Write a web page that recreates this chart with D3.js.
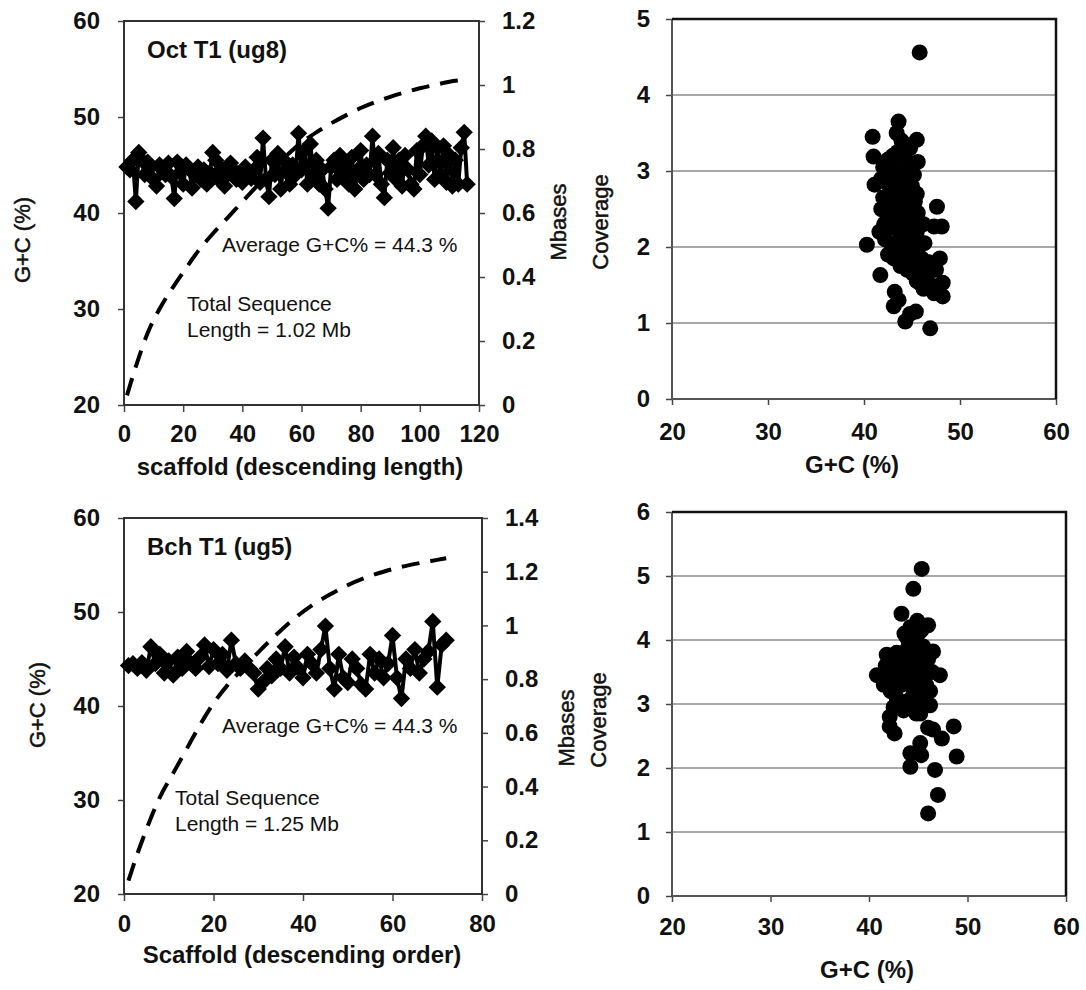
<!DOCTYPE html>
<html>
<head>
<meta charset="utf-8">
<script src="https://cdn.jsdelivr.net/npm/d3@7"></script>
<style>
  html, body { margin: 0; padding: 0; background: #fff; }
  svg { display: block; font-family: "Liberation Sans", Arial, sans-serif; }
  .tick text { font-weight: bold; font-size: 24px; fill: #111; }
</style>
</head>
<body>
<svg id="chart" width="1086" height="990"></svg>
<script>
// ---------------- DATA ----------------
// Panel A (top-left): Oct T1 (ug8) G+C % per scaffold (descending length)
const octGC = [44.8,44.5,45.5,41.2,46.3,45.5,44.0,45.3,44.8,43.5,42.8,45.0,44.5,44.0,45.2,43.8,41.5,45.3,44.2,43.0,
  45.0,44.6,42.6,44.0,44.8,43.5,44.5,43.0,44.2,46.3,45.5,43.5,44.6,42.8,44.0,45.2,44.5,43.5,44.0,43.2,
  44.8,44.0,43.6,44.5,45.8,43.2,47.8,43.5,41.7,45.5,44.0,46.2,42.5,45.5,44.2,43.0,45.0,44.0,48.3,44.5,
  46.5,43.0,47.2,44.0,45.5,43.0,44.5,42.5,40.5,44.8,45.5,43.5,46.0,44.0,45.3,43.0,45.8,42.5,44.5,46.5,
  43.5,45.0,44.0,48.0,44.0,46.2,43.0,41.6,45.5,44.2,46.8,43.5,45.5,42.8,46.0,44.5,43.0,42.5,46.5,44.0,
  47.0,48.0,45.0,47.5,43.5,46.8,44.0,47.0,43.2,46.0,42.8,45.5,43.0,46.8,48.4,43.0];
// cumulative length (Mbases) read at scaffold positions
const octCumX = [1,4,8,12,16,20,25,30,35,40,45,50,55,60,65,70,75,80,85,90,95,100,105,110,114];
const octCumY = [0.03,0.12,0.225,0.30,0.36,0.415,0.48,0.535,0.585,0.635,0.685,0.735,0.78,0.82,0.852,0.88,0.905,0.928,0.947,0.963,0.977,0.99,1.0,1.01,1.015];

// Panel C (bottom-left): Bch T1 (ug5)
const bchGC = [44.3,44.5,44.0,44.6,43.8,46.3,44.5,45.5,43.5,44.8,43.3,45.2,44.0,45.8,44.5,44.0,45.2,46.5,44.2,46.0,
  44.5,45.5,43.8,47.0,44.5,44.0,44.8,44.0,43.5,41.8,42.5,44.0,43.2,45.0,44.0,46.3,43.5,45.2,44.0,43.0,
  45.5,44.5,43.5,46.0,48.5,44.0,41.8,45.5,43.0,42.5,45.0,44.0,42.3,41.8,45.5,43.5,45.0,43.0,44.5,47.5,
  43.0,40.8,45.0,44.0,46.0,43.5,45.0,45.8,49.0,42.0,46.5,47.0];
const bchCumX = [1,3,5,8,11,14,17,20,23,26,30,34,38,42,46,50,54,58,62,66,70,72];
const bchCumY = [0.05,0.15,0.24,0.36,0.45,0.54,0.63,0.71,0.775,0.83,0.90,0.965,1.025,1.075,1.115,1.15,1.178,1.20,1.218,1.232,1.244,1.25];

// Panel B (top-right): coverage vs G+C, Oct T1
const octScatGC  = [45.8,43.6,43.4,40.9,45.5,44.8,41.0,45.6,41.1,47.6,48.1,47.3,40.3,41.7,47.9,43.2,43.1,43.6,44.3,44.8,
  45.4,46.9,48.2,48.2,47.3,47.0,45.9,46.5,47.5,46.2,
  42.5,43.0,43.5,44.2,44.8,42.0,43.8,44.5,45.2,
  41.8,42.3,42.8,43.3,43.8,44.4,45.0,45.5,42.0,42.6,43.1,43.6,44.1,44.7,45.3,
  41.8,42.3,42.9,43.4,44.0,44.5,45.1,45.6,42.1,42.6,43.2,43.7,44.3,44.9,45.5,46.2,41.6,
  42.2,42.8,43.3,43.9,44.5,45.0,45.6,46.3,42.5,43.1,43.7,44.3,44.9,45.4,46.0,
  43.8,44.5,45.1,45.8,46.4,45.5,46.8,
  43.9,44.3,43.2,44.0,43.6,44.2,44.7,45.2];
const octScatCov = [4.56,3.65,3.50,3.45,3.41,3.30,3.19,3.12,2.82,2.53,2.27,2.27,2.03,1.63,1.85,1.41,1.22,1.30,1.02,1.12,
  1.15,0.93,1.53,1.35,1.39,1.50,1.52,1.60,1.70,1.45,
  3.15,3.20,3.25,3.20,3.10,3.05,3.00,2.98,2.95,
  2.90,2.85,2.90,2.80,2.75,2.85,2.80,2.70,2.65,2.70,2.60,2.65,2.60,2.65,2.60,
  2.50,2.45,2.50,2.40,2.45,2.50,2.40,2.45,2.30,2.25,2.30,2.20,2.25,2.30,2.20,2.30,2.20,
  2.10,2.05,2.00,2.10,2.00,2.10,2.00,2.05,1.90,1.85,1.95,1.85,1.90,1.80,1.85,
  1.75,1.70,1.65,1.70,1.75,1.55,1.80,
  3.40,3.35,3.05,2.90,2.50,2.35,2.15,1.95];

// Panel D (bottom-right): coverage vs G+C, Bch T1
const bchScatGC  = [45.35,44.5,43.3,46.0,44.9,43.8,46.5,41.8,40.8,47.2,46.2,42.1,42.1,42.6,45.2,48.6,46.5,46.0,47.4,45.2,
  44.2,45.3,44.2,46.7,48.9,47.0,46.0,
  41.5,42.0,42.5,43.0,43.5,44.0,44.5,45.0,45.5,46.0,42.2,42.8,43.3,43.8,44.3,44.8,45.3,45.8,46.2,
  42.5,43.0,43.5,44.0,44.5,45.0,45.5,44.8,44.2,44.9,45.3,43.6,42.3,43.8,44.6,45.6,43.2,41.7,42.8,44.2,46.4,45.0,44.3];
const bchScatCov = [5.11,4.80,4.41,4.23,4.30,4.05,3.82,3.77,3.45,3.45,2.98,2.80,2.65,2.54,2.85,2.65,2.60,2.63,2.46,2.39,
  2.23,2.20,2.02,1.97,2.18,1.58,1.29,
  3.30,3.50,3.60,3.70,3.80,3.90,4.00,4.10,3.90,3.70,3.20,3.10,3.30,3.40,3.50,3.60,3.50,3.30,3.20,
  2.95,3.00,2.90,3.05,3.15,3.00,3.10,2.85,4.20,4.25,4.15,4.10,3.40,3.60,3.30,3.60,3.50,3.60,3.80,2.95,3.50,3.75,3.75];

// Axis tick values
const gcTicks = [20,30,40,50,60];
const octXTicks = [0,20,40,60,80,100,120];
const bchXTicks = [0,20,40,60,80];
const octMbTicks = [0,0.2,0.4,0.6,0.8,1.0,1.2];
const bchMbTicks = [0,0.2,0.4,0.6,0.8,1.0,1.2,1.4];
const scatXTicks = [20,30,40,50,60];
const octCovTicks = [0,1,2,3,4,5];
const bchCovTicks = [0,1,2,3,4,5,6];

// ---------------- DRAW ----------------
const svg = d3.select("#chart");
const fmtMb = d => d === 0 ? "0" : (d === 1 ? "1" : d3.format(".1f")(d));

function styleAxis(g) {
  g.select(".domain").remove();
  g.selectAll(".tick line").attr("stroke", "#444").attr("stroke-width", 1.5);
}

function vtitle(x, y, txt) {
  svg.append("text")
    .attr("transform", `translate(${x},${y}) rotate(-90)`)
    .attr("text-anchor", "middle").attr("dominant-baseline", "central")
    .attr("font-size", 22).attr("fill", "#111")
    .attr("stroke", "#111").attr("stroke-width", 0.5)
    .text(txt);
}
function htitle(x, y, txt) {
  svg.append("text").attr("x", x).attr("y", y)
    .attr("text-anchor", "middle").attr("font-size", 24).attr("font-weight", "bold")
    .attr("fill", "#111").text(txt);
}
function note(x, y, txt, bold, size) {
  svg.append("text").attr("x", x).attr("y", y)
    .attr("font-size", size).attr("font-weight", bold ? "bold" : "normal")
    .attr("fill", "#111").text(txt);
}

function linePanel(cfg) {
  const x = d3.scaleLinear().domain(cfg.xDom).range(cfg.xR);
  const y = d3.scaleLinear().domain([20, 60]).range(cfg.yR);
  const y2 = d3.scaleLinear().domain(cfg.y2Dom).range(cfg.yR);
  const g = svg.append("g");

  g.append("g").attr("transform", `translate(${cfg.xR[0]},0)`)
    .call(d3.axisLeft(y).tickValues(gcTicks).tickSize(6).tickPadding(18)).call(styleAxis);
  g.append("g").attr("transform", `translate(${cfg.xR[1]},0)`)
    .call(d3.axisRight(y2).tickValues(cfg.y2Ticks).tickFormat(fmtMb).tickSize(6).tickPadding(17)).call(styleAxis)
    .selectAll("text").attr("text-anchor", "start");
  g.append("g").attr("transform", `translate(0,${cfg.yR[0]})`)
    .call(d3.axisBottom(x).tickValues(cfg.xTicks).tickSize(7).tickPadding(cfg.xPad)).call(styleAxis);

  g.append("rect").attr("x", cfg.xR[0]).attr("y", cfg.yR[1])
    .attr("width", cfg.xR[1] - cfg.xR[0]).attr("height", cfg.yR[0] - cfg.yR[1])
    .attr("fill", "none").attr("stroke", "#333").attr("stroke-width", 2);

  g.append("path").datum(cfg.gc)
    .attr("fill", "none").attr("stroke", "#000").attr("stroke-width", 4)
    .attr("stroke-linejoin", "round")
    .attr("d", d3.line().x((d, i) => x(i + 1)).y(d => y(d)));
  const sym = d3.symbol().type(d3.symbolSquare).size(150)();
  g.selectAll(".mk").data(cfg.gc).join("path")
    .attr("d", sym).attr("fill", "#000")
    .attr("transform", (d, i) => `translate(${x(i + 1)},${y(d)}) rotate(45)`);

  g.append("path").datum(cfg.cumX.map((v, i) => [v, cfg.cumY[i]]))
    .attr("fill", "none").attr("stroke", "#000").attr("stroke-width", 4)
    .attr("stroke-dasharray", "18,11")
    .attr("d", d3.line().curve(d3.curveMonotoneX).x(d => x(d[0])).y(d => y2(d[1])));
}

function scatterPanel(cfg) {
  const x = d3.scaleLinear().domain([20, 60]).range(cfg.xR);
  const y = d3.scaleLinear().domain(cfg.yDom).range(cfg.yR);
  const g = svg.append("g");
  g.selectAll(".grid").data(cfg.yTicks.filter(t => t > cfg.yDom[0] && t < cfg.yDom[1])).join("line")
    .attr("x1", cfg.xR[0]).attr("x2", cfg.xR[1])
    .attr("y1", d => y(d)).attr("y2", d => y(d))
    .attr("stroke", "#8a8a8a").attr("stroke-width", 1.5);
  g.append("g").attr("transform", `translate(${cfg.xR[0]},0)`)
    .call(d3.axisLeft(y).tickValues(cfg.yTicks).tickFormat(d3.format("d")).tickSize(6).tickPadding(16)).call(styleAxis);
  g.append("g").attr("transform", `translate(0,${cfg.yR[0]})`)
    .call(d3.axisBottom(x).tickValues(scatXTicks).tickSize(6).tickPadding(cfg.xPad)).call(styleAxis);
  g.append("line").attr("x1", cfg.xR[0]).attr("x2", cfg.xR[0]).attr("y1", cfg.yR[0]).attr("y2", cfg.yR[1])
    .attr("stroke", "#555").attr("stroke-width", 2);
  g.append("line").attr("x1", cfg.xR[0]).attr("x2", cfg.xR[1]).attr("y1", cfg.yR[0]).attr("y2", cfg.yR[0])
    .attr("stroke", "#555").attr("stroke-width", 2);
  g.append("path")
    .attr("d", `M${cfg.xR[0]},${cfg.yR[1]}H${cfg.xR[1]}V${cfg.yR[0]}`)
    .attr("fill", "none").attr("stroke", "#111").attr("stroke-width", 2.5);
  g.selectAll(".pt").data(cfg.gc).join("circle")
    .attr("cx", d => x(d)).attr("cy", (d, i) => y(cfg.cov[i])).attr("r", 8).attr("fill", "#000");
}

linePanel({ xDom: [0, 120], xR: [124, 479], yR: [405, 21], y2Dom: [0, 1.2], y2Ticks: octMbTicks,
  xTicks: octXTicks, xPad: 13, gc: octGC, cumX: octCumX, cumY: octCumY });
linePanel({ xDom: [0, 80], xR: [124, 482], yR: [894, 518], y2Dom: [0, 1.4], y2Ticks: bchMbTicks,
  xTicks: bchXTicks, xPad: 14, gc: bchGC, cumX: bchCumX, cumY: bchCumY });
scatterPanel({ xR: [672, 1056], yR: [399, 19], yDom: [0, 5], yTicks: octCovTicks, xPad: 18,
  gc: octScatGC, cov: octScatCov });
scatterPanel({ xR: [672, 1066], yR: [896, 512], yDom: [0, 6], yTicks: bchCovTicks, xPad: 16,
  gc: bchScatGC, cov: bchScatCov });

note(147, 58, "Oct T1 (ug8)", true, 24);
note(222, 252, "Average G+C% = 44.3 %", false, 21);
note(187, 311, "Total Sequence", false, 21);
note(187, 337, "Length = 1.02 Mb", false, 21);

note(147, 555, "Bch T1 (ug5)", true, 24);
note(222, 733, "Average G+C% = 44.3 %", false, 21);
note(175, 805, "Total Sequence", false, 21);
note(175, 831, "Length = 1.25 Mb", false, 21);

htitle(300, 475, "scaffold (descending length)");
htitle(302, 963, "Scaffold (descending order)");
htitle(852, 473, "G+C (%)");
htitle(867, 978, "G+C (%)");

vtitle(22, 240, "G+C (%)");
vtitle(37, 705, "G+C (%)");
vtitle(558, 222, "Mbases");
vtitle(566, 728, "Mbases");
vtitle(600, 222, "Coverage");
vtitle(598, 720, "Coverage");
</script>
</body>
</html>
